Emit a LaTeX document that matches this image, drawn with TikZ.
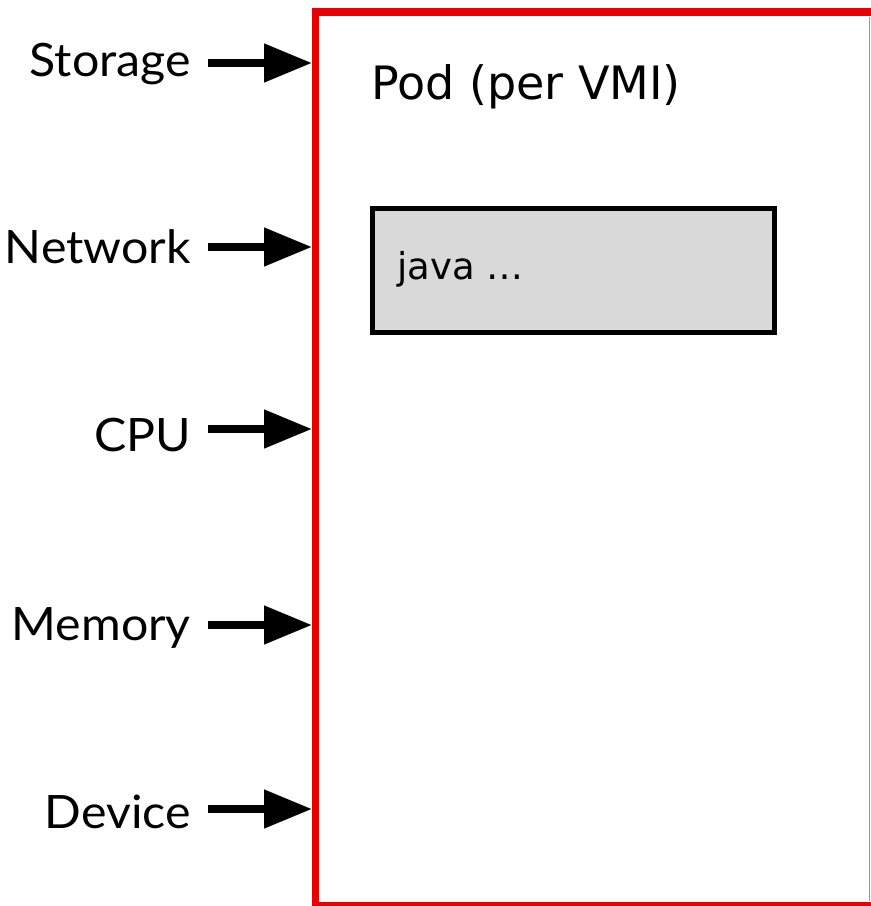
\documentclass[tikz,border=0pt]{standalone}
\usepackage{fontspec}
\setmainfont[FakeStretch=1.05]{Lato}
\newfontfamily\podfont{DejaVu Sans}
\usetikzlibrary{arrows.meta}

\tikzset{
  res/.style={anchor=base east, inner sep=0pt, font=\fontsize{46}{55}\selectfont},
  feed/.style={line width=8pt, -{Triangle[length=48pt,width=37pt]}, shorten >=3.5pt},
  podline/.style={draw={rgb,255:red,235;green,0;blue,0}, line width=7.5pt, line join=miter},
  proc/.style={draw=black, line width=5pt, fill={rgb,255:red,217;green,217;blue,217}, rectangle, outer sep=0pt, inner sep=0pt}
}

\begin{document}
\begin{tikzpicture}[x=1pt, y=-1pt]
  \useasboundingbox[fill=white] (0,0) rectangle (871,906);
  \clip (0,0) rectangle (871,906);

  % pod area; its outline runs off the right edge
  \node[rectangle, outer sep=0pt, inner sep=0pt, minimum width=620pt, minimum height=894pt, anchor=north west] (pod) at (315.5,12) {};
  \draw[podline] (pod.north east) -- (pod.north west) -- (pod.south west) -- (pod.south east);
  \draw[line width=1.5pt, draw={rgb,255:red,150;green,150;blue,150}] (869.5,17) -- (869.5,901);

  % pod title
  \node[anchor=base west, inner sep=0pt, font=\podfont\fontsize{46}{55}\selectfont] (title) at (371,99) {Pod (per VMI)};

  % process box
  \node[proc, minimum width=402pt, minimum height=124pt, anchor=north west] (java) at (372.5,208.5) {};
  \node[anchor=base west, inner sep=0pt, font=\podfont\fontsize{37}{44}\selectfont] (javatxt) at (397,279) {java \ldots};

  % resource labels
  \node[res] (storage) at (191,76) {Storage};
  \node[res] (network) at (191,263) {Network};
  \node[res] (cpu) at (191,451) {CPU};
  \node[res] (memory) at (191,640) {Memory};
  \node[res] (device) at (191,828) {Device};

  % arrows into the pod
  \coordinate (s0) at (208,63);
  \coordinate (n0) at (208,247);
  \coordinate (c0) at (208,429);
  \coordinate (m0) at (208,625);
  \coordinate (d0) at (208,809);
  \draw[feed] (s0) -- (s0 -| pod.west);
  \draw[feed] (n0) -- (n0 -| pod.west);
  \draw[feed] (c0) -- (c0 -| pod.west);
  \draw[feed] (m0) -- (m0 -| pod.west);
  \draw[feed] (d0) -- (d0 -| pod.west);
\end{tikzpicture}
\end{document}
